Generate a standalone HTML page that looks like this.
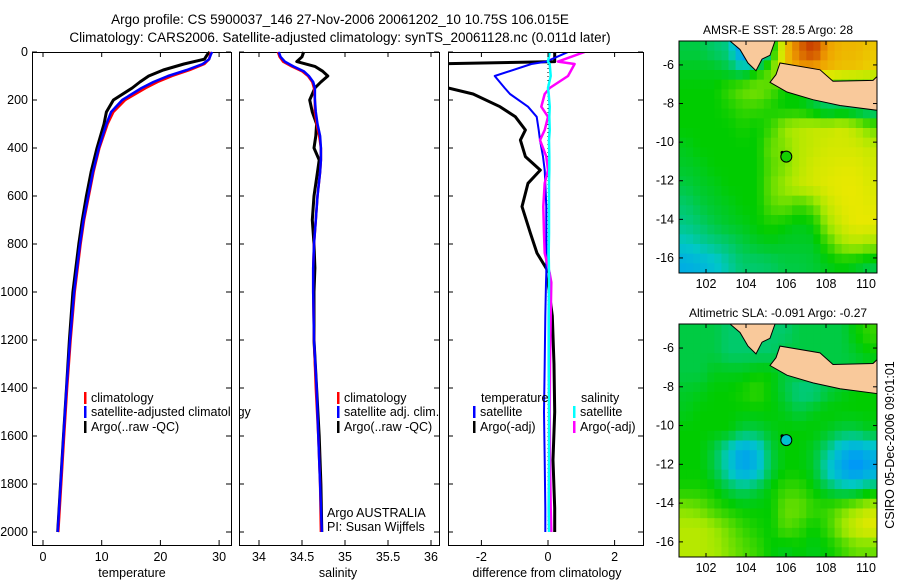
<!DOCTYPE html>
<html><head><meta charset="utf-8">
<style>
html,body{margin:0;padding:0;background:#fff;}
svg{display:block;font-family:"Liberation Sans",sans-serif;}
</style></head>
<body>
<svg id="fig" width="900" height="580" viewBox="0 0 900 580" xmlns="http://www.w3.org/2000/svg">
<text x="340" y="24" font-size="13.5" text-anchor="middle">Argo profile: CS 5900037_146 27-Nov-2006 20061202_10 10.75S 106.015E</text>
<text x="340" y="42" font-size="13.5" text-anchor="middle">Climatology: CARS2006. Satellite-adjusted climatology: synTS_20061128.nc (0.011d later)</text>
</svg>
<script>
// ---------- data ----------
const tDepth=[0,10,30,50,75,100,125,150,200,250,300,400,500,600,700,800,1000,1200,1400,1600,1800,2000];
const tClim=[28.6,28.5,28.3,27.5,25.0,22.0,19.5,17.5,14.0,12.0,11.0,9.6,8.6,7.8,7.0,6.4,5.4,4.7,4.1,3.6,3.1,2.6];
const tSat=[28.8,28.6,28.3,27.2,24.5,21.3,18.8,16.8,13.5,11.6,10.8,9.5,8.5,7.7,6.9,6.3,5.3,4.6,4.0,3.5,3.0,2.5];
const tArgo=[28.4,28.0,27.5,24.0,20.5,18.0,16.5,15.2,12.0,10.8,10.4,9.2,8.2,7.4,6.7,6.1,5.1,4.5,4.0,3.5,3.0,2.5];
const sDepth=[0,20,40,60,80,100,125,150,200,250,300,350,400,450,500,600,700,800,900,1000,1200,1400,1600,1800,2000];
const sClim=[34.22,34.24,34.28,34.38,34.50,34.57,34.62,34.64,34.65,34.65,34.67,34.70,34.72,34.72,34.71,34.68,34.66,34.64,34.63,34.63,34.64,34.66,34.69,34.71,34.72];
const sSat=[34.23,34.25,34.30,34.40,34.52,34.58,34.63,34.65,34.65,34.66,34.68,34.71,34.72,34.72,34.71,34.68,34.66,34.64,34.63,34.63,34.64,34.67,34.69,34.71,34.73];
const sArgo=[34.52,34.50,34.44,34.65,34.74,34.80,34.72,34.65,34.59,34.62,34.67,34.66,34.64,34.70,34.68,34.64,34.62,34.64,34.65,34.64,34.64,34.67,34.70,34.72,34.73];
const dDepth=[0,40,50,100,150,175,228,270,325,367,436,492,547,644,755,838,922,960,1100,1300,1500,1700,1900,2000];
const dTempSat=[0.6,-0.05,-0.5,-1.6,-1.3,-1.14,-0.6,-0.34,-0.28,-0.24,-0.15,-0.1,-0.08,-0.05,-0.05,-0.05,-0.05,-0.06,-0.08,-0.1,-0.12,-0.1,-0.08,-0.08];
const dTempArgo=[0.2,0.2,-3.5,-3.5,-3.0,-2.25,-1.44,-0.98,-0.68,-0.83,-0.68,-0.23,-0.6,-0.78,-0.53,-0.33,0.04,0.0,0.13,0.18,0.2,0.15,0.2,0.2];
const dSalSat=[0.05,0.0,0.05,0.08,0.0,0.02,0.05,0.04,0.05,0.03,0.04,0.04,0.03,0.03,0.03,0.02,0.03,0.03,0.02,0.02,0.03,0.03,0.02,0.03];
const dSalArgo=[1.1,0.3,0.8,0.6,0.05,-0.1,-0.2,0.0,-0.1,-0.24,-0.05,0.0,-0.1,-0.14,-0.12,-0.1,0.05,0.1,0.08,0.06,0.05,0.06,0.08,0.1];
const depthTicks=[0,200,400,600,800,1000,1200,1400,1600,1800,2000];
const tTicks=[0,10,20,30];
const sTicks=[34,34.5,35,35.5,36];
const dTicks=[-2,0,2];
const lonTicks=[102,104,106,108,110];
const latTicks=[-6,-8,-10,-12,-14,-16];
// map grids: 12 rows (lat -4.76 downward by 1.0deg), 14 cols (lon 100.65 by 0.707deg)
const sstGrid=[
[0.45,0.45,0.42,0.4,0.2,0.1,0.45,0.8,0.9,0.95,0.85,0.82,0.82,0.8],
[0.48,0.48,0.48,0.45,0.4,0.5,0.6,0.8,0.85,0.84,0.82,0.8,0.8,0.78],
[0.5,0.5,0.5,0.55,0.6,0.62,0.58,0.5,0.5,0.5,0.5,0.48,0.45,0.45],
[0.5,0.5,0.5,0.52,0.55,0.55,0.52,0.5,0.5,0.45,0.4,0.42,0.4,0.38],
[0.5,0.5,0.5,0.5,0.52,0.5,0.55,0.65,0.68,0.7,0.7,0.72,0.68,0.6],
[0.48,0.5,0.5,0.5,0.5,0.5,0.6,0.62,0.68,0.7,0.72,0.72,0.72,0.7],
[0.47,0.48,0.5,0.5,0.5,0.5,0.58,0.62,0.68,0.72,0.73,0.74,0.74,0.72],
[0.45,0.47,0.48,0.5,0.5,0.5,0.6,0.65,0.7,0.72,0.74,0.75,0.75,0.73],
[0.42,0.45,0.47,0.48,0.5,0.5,0.58,0.6,0.55,0.6,0.7,0.74,0.75,0.74],
[0.4,0.42,0.45,0.47,0.48,0.5,0.52,0.5,0.48,0.5,0.65,0.72,0.75,0.75],
[0.35,0.38,0.4,0.42,0.45,0.47,0.48,0.47,0.47,0.47,0.55,0.65,0.68,0.65],
[0.28,0.3,0.33,0.38,0.42,0.42,0.43,0.45,0.45,0.46,0.48,0.5,0.48,0.45]];
const slaGrid=[
[0.45,0.45,0.45,0.42,0.42,0.42,0.42,0.42,0.45,0.45,0.45,0.45,0.5,0.55],
[0.45,0.45,0.45,0.42,0.42,0.42,0.42,0.45,0.45,0.45,0.45,0.45,0.47,0.5],
[0.45,0.45,0.48,0.48,0.48,0.5,0.5,0.45,0.45,0.45,0.45,0.45,0.45,0.45],
[0.47,0.48,0.5,0.5,0.52,0.55,0.5,0.45,0.4,0.4,0.45,0.48,0.5,0.5],
[0.48,0.5,0.5,0.5,0.5,0.5,0.5,0.48,0.45,0.48,0.5,0.5,0.5,0.5],
[0.5,0.5,0.5,0.5,0.45,0.45,0.48,0.5,0.5,0.5,0.48,0.45,0.45,0.48],
[0.5,0.5,0.45,0.35,0.25,0.3,0.45,0.5,0.5,0.47,0.4,0.3,0.25,0.3],
[0.5,0.5,0.45,0.35,0.25,0.3,0.45,0.5,0.5,0.47,0.35,0.25,0.2,0.25],
[0.52,0.52,0.5,0.45,0.42,0.45,0.5,0.55,0.55,0.5,0.45,0.4,0.4,0.45],
[0.62,0.6,0.55,0.52,0.5,0.5,0.5,0.6,0.6,0.55,0.55,0.6,0.65,0.7],
[0.68,0.68,0.65,0.6,0.55,0.52,0.5,0.58,0.55,0.5,0.55,0.65,0.72,0.75],
[0.68,0.68,0.66,0.62,0.58,0.55,0.5,0.48,0.5,0.48,0.5,0.55,0.6,0.6]];
const sumatraLon=[103.2,103.7,104.1,104.5,104.8,105.2,105.45];
const sumatraLat=[-4.76,-5.2,-5.9,-6.3,-5.7,-5.5,-4.76];
const javaLon=[105.2,106.05,107.35,108.7,110.55,110.55,110.35,108.35,107.7,105.7,105.5];
const javaLat=[-6.9,-7.4,-7.8,-8.1,-8.35,-6.6,-6.8,-6.85,-6.25,-5.9,-6.5];
const argoLon=106.015, argoLat=-10.75;
const sstArgoVal=0.52, slaArgoVal=0.33;

// ---------- helpers ----------
const NS="http://www.w3.org/2000/svg";
const svg=document.getElementById('fig');
function mk(tag,attrs,parent){const e=document.createElementNS(NS,tag);for(const k in attrs)e.setAttribute(k,attrs[k]);(parent||svg).appendChild(e);return e;}
function txt(x,y,s,attrs){const e=mk('text',Object.assign({x:x,y:y,'font-size':12.5},attrs||{}));e.textContent=s;return e;}
const dY=d=>52+d*0.24;
const PANEL_TOP=52, PANEL_BOT=545;

function panel(x0,x1,name){
  const g=mk('g',{});
  
  
  mk('rect',{x:x0+0.5,y:PANEL_TOP+0.5,width:x1-x0,height:PANEL_BOT-PANEL_TOP,fill:'none',stroke:'#000','stroke-width':1},g);
  return g;
}
function line(g,xs,ds,fx,color,w,name){
  const pts=xs.map((v,i)=>fx(v).toFixed(1)+','+dY(ds[i]).toFixed(1)).join(' ');
  const p=mk('polyline',{points:pts,fill:'none',stroke:color,'stroke-width':w,'stroke-linejoin':'round'},g);
  
  
}
function xTicks(g,ticks,fx){
  ticks.forEach(t=>{const x=fx(t);
    mk('line',{x1:x,x2:x,y1:PANEL_BOT,y2:PANEL_BOT-5,stroke:'#000'},g);
    mk('line',{x1:x,x2:x,y1:PANEL_TOP,y2:PANEL_TOP+5,stroke:'#000'},g);
    const e=txt(x,561,String(t),{'text-anchor':'middle'});
    
    
  });
}
function yTickMarks(g,x0,x1){
  depthTicks.forEach(d=>{const y=dY(d);
    mk('line',{x1:x0,x2:x0+5,y1:y,y2:y,stroke:'#000'},g);
    mk('line',{x1:x1-5,x2:x1,y1:y,y2:y,stroke:'#000'},g);
  });
}
function legendEntry(g,x,y,color,label,name){
  mk('rect',{x:x,y:y-10,width:2.5,height:12,fill:color},g);
  const e=txt(x+7,y,label,{});
  
  
}

// ---------- panel 1: temperature ----------
const fT=v=>43+v*5.87;
const g1=panel(32,231,'temperature-panel');
yTickMarks(g1,32,231);
depthTicks.forEach(d=>{const e=txt(28,dY(d)+4,String(d),{'text-anchor':'end'});
  
  });
xTicks(g1,tTicks,fT);
line(g1,tArgo,tDepth,fT,'#000',3,'temp-argo-line');
line(g1,tClim,tDepth,fT,'#f00',2.5,'temp-climatology-line');
line(g1,tSat,tDepth,fT,'#00f',2.5,'temp-satellite-line');
legendEntry(g1,84,402,'#f00','climatology','legend-climatology');
legendEntry(g1,84,416,'#00f','satellite-adjusted climatology','legend-satellite-adjusted');
legendEntry(g1,84,431,'#000','Argo(..raw -QC)','legend-argo');
mk('rect',{x:232,y:390,width:7,height:50,fill:'#fff'});
txt(132,577,'temperature',{'text-anchor':'middle'});

// ---------- panel 2: salinity ----------
const fS=v=>259+(v-34)*86;
const g2=panel(239,439,'salinity-panel');
yTickMarks(g2,239,439);
xTicks(g2,sTicks,fS);
line(g2,sArgo,sDepth,fS,'#000',3,'sal-argo-line');
line(g2,sClim,sDepth,fS,'#f00',2.5,'sal-climatology-line');
line(g2,sSat,sDepth,fS,'#00f',2.5,'sal-satellite-line');
legendEntry(g2,337,402,'#f00','climatology','legend-sal-climatology');
legendEntry(g2,337,416,'#00f','satellite adj. clim.','legend-sal-satellite');
legendEntry(g2,337,431,'#000','Argo(..raw -QC)','legend-sal-argo');
txt(327,517,'Argo AUSTRALIA',{});
txt(327,531,'PI: Susan Wijffels',{});
txt(338,577,'salinity',{'text-anchor':'middle'});

// ---------- panel 3: differences ----------
const fD=v=>548+v*33.3;
const g3=panel(448,643,'difference-panel');
const cp=mk('clipPath',{id:'clip3'});mk('rect',{x:449,y:53,width:194,height:492},cp);
const g3c=mk('g',{'clip-path':'url(#clip3)'},g3);
yTickMarks(g3,448,643);
xTicks(g3,dTicks,fD);
mk('line',{x1:fD(0),x2:fD(0),y1:dY(0),y2:dY(2000),stroke:'#000','stroke-dasharray':'1,3'},g3c);
line(g3c,dTempArgo,dDepth,fD,'#000',3,'diff-temp-argo-line');
line(g3c,dTempSat,dDepth,fD,'#00f',2,'diff-temp-satellite-line');
line(g3c,dSalArgo,dDepth,fD,'#f0f',2.5,'diff-sal-argo-line');
line(g3c,dSalSat,dDepth,fD,'#0ff',2.5,'diff-sal-satellite-line');
txt(481,402,'temperature',{});
legendEntry(g3,473,416,'#00f','satellite','legend-diff-temp-satellite');
legendEntry(g3,473,431,'#000','Argo(-adj)','legend-diff-temp-argo');
txt(581,402,'salinity',{});
legendEntry(g3,573,416,'#0ff','satellite','legend-diff-sal-satellite');
legendEntry(g3,573,431,'#f0f','Argo(-adj)','legend-diff-sal-argo');
txt(547,577,'difference from climatology',{'text-anchor':'middle'});

// ---------- maps ----------
const stops=[[0,[0,48,192]],[0.2,[0,144,255]],[0.35,[0,200,200]],[0.5,[0,204,0]],[0.65,[160,232,0]],[0.75,[232,232,0]],[0.85,[240,160,0]],[1,[176,0,0]]];
function cmap(v){
  for(let i=1;i<stops.length;i++){if(v<=stops[i][0]){const a=stops[i-1],b=stops[i];const t=(v-a[0])/(b[0]-a[0]);
    const c=a[1].map((x,k)=>Math.round(x+(b[1][k]-x)*t));return 'rgb('+c.join(',')+')';}}
  return 'rgb(176,0,0)';
}
function sample(grid,fr,fc){
  const r0=Math.max(0,Math.min(10,Math.floor(fr))),c0=Math.max(0,Math.min(12,Math.floor(fc)));
  const tr=Math.max(0,Math.min(1,fr-r0)),tc=Math.max(0,Math.min(1,fc-c0));
  const a=grid[r0][c0],b=grid[r0][c0+1],c=grid[r0+1][c0],d=grid[r0+1][c0+1];
  return a*(1-tr)*(1-tc)+b*(1-tr)*tc+c*tr*(1-tc)+d*tr*tc;
}
function drawMap(top,bottom,grid,title,argoVal,name){
  const x0=679,x1=877;
  const fLon=l=>706+(l-102)*20;
  const latScale=(bottom-top)/12.02;
  const fLat=l=>top+(-4.76-l)*latScale;
  const g=mk('g',{});
  
  
  const NR=24,NC=28;
  const cellW=(x1-x0)/NC, cellH=(bottom-top)/NR;
  for(let r=0;r<NR;r++)for(let c=0;c<NC;c++){
    const v=sample(grid,(r+0.5)/2-0.5,(c+0.5)/2-0.5);
    const rc=mk('rect',{x:(x0+c*cellW).toFixed(2),y:(top+r*cellH).toFixed(2),width:(cellW+0.5).toFixed(2),height:(cellH+0.5).toFixed(2),fill:cmap(v)},g);
    
    
  }
  [[sumatraLon,sumatraLat,'sumatra-land'],[javaLon,javaLat,'java-land']].forEach(([lo,la,nm])=>{
    const p=mk('polygon',{points:lo.map((l,i)=>fLon(l).toFixed(1)+','+fLat(la[i]).toFixed(1)).join(' '),fill:'#f9c99b',stroke:'#000','stroke-width':1},g);
    
    
  });
  mk('rect',{x:x0,y:top,width:x1-x0,height:bottom-top,fill:'none',stroke:'#000'},g);
  lonTicks.forEach(l=>{const x=fLon(l);
    mk('line',{x1:x,x2:x,y1:bottom,y2:bottom-4,stroke:'#000'},g);
    mk('line',{x1:x,x2:x,y1:top,y2:top+4,stroke:'#000'},g);
    const e=txt(x,bottom+15,String(l),{'text-anchor':'middle'});
    
    });
  latTicks.forEach(l=>{const y=fLat(l);
    mk('line',{x1:x0,x2:x0+4,y1:y,y2:y,stroke:'#000'},g);
    mk('line',{x1:x1-4,x2:x1,y1:y,y2:y,stroke:'#000'},g);
    const e=txt(674,y+4,String(l),{'text-anchor':'end'});
    
    });
  const ax=fLon(argoLon), ay=fLat(argoLat);
  mk('circle',{cx:ax-4,cy:ay-4,r:1.8,fill:'#000'},g);
  const c=mk('circle',{cx:ax,cy:ay,r:5.5,fill:cmap(argoVal),stroke:'#000','stroke-width':1},g);
  
  
  const t=txt(778,top-7,title,{'text-anchor':'middle','font-size':12});
  
  
}
drawMap(41,273,sstGrid,'AMSR-E SST: 28.5 Argo: 28',sstArgoVal,'sst-map');
drawMap(324,557,slaGrid,'Altimetric SLA: -0.091 Argo: -0.27',slaArgoVal,'sla-map');
const cs=txt(0,0,'CSIRO 05-Dec-2006 09:01:01',{'text-anchor':'middle','font-size':12.5,transform:'translate(894,445) rotate(-90)'});


</script>
</body></html>
